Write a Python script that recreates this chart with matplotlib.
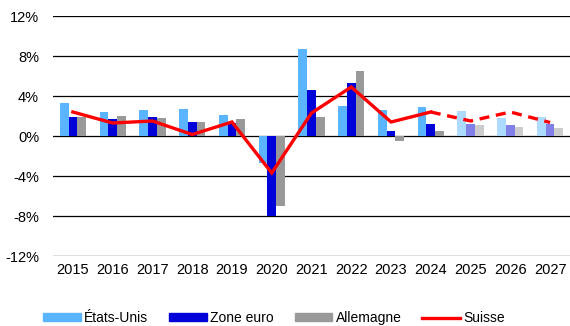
import numpy as np
import matplotlib
matplotlib.use("Agg")
import matplotlib.pyplot as plt
from matplotlib.patches import Patch
from matplotlib.lines import Line2D
from matplotlib.ticker import FuncFormatter

plt.rcParams['font.family'] = ['Liberation Sans', 'DejaVu Sans']

# Croissance du PIB réel (%), 2025-2027 = prévisions
annees = [2015, 2016, 2017, 2018, 2019, 2020, 2021, 2022, 2023, 2024, 2025, 2026, 2027]
etats_unis = [3.3, 2.4, 2.6, 2.7, 2.1, -2.7, 8.7, 3.0, 2.6, 2.9, 2.5, 1.8, 1.9]
zone_euro = [1.95, 1.7, 1.9, 1.4, 1.3, -8.0, 4.6, 5.3, 0.5, 1.2, 1.2, 1.1, 1.2]
allemagne = [1.95, 2.0, 1.8, 1.4, 1.7, -7.0, 1.9, 6.5, -0.5, 0.5, 1.1, 0.9, 0.8]
suisse = [2.4, 1.3, 1.5, 0.15, 1.4, -3.7, 2.3, 4.9, 1.4, 2.4, 1.5, 2.4, 1.35]
premiere_prevision = 2025

# couleurs observé / prévision
col_us = ('#5AB4FF', '#ADDAFF')
col_ez = ('#0000D8', '#8080E8')
col_de = ('#999999', '#CCCCCC')

fig = plt.figure(figsize=(5.7, 3.26), dpi=100)
ax = fig.add_axes([53 / 570, 1 - 256 / 326, 1 - 53 / 570, 240 / 326])

x = np.arange(len(annees))
w = 0.22
prev = np.array(annees) >= premiere_prevision

for vals, cols, off in [(etats_unis, col_us, -w), (zone_euro, col_ez, 0), (allemagne, col_de, w)]:
    colors = [cols[1] if p else cols[0] for p in prev]
    ax.bar(x + off, vals, width=w, color=colors, zorder=3)

# Suisse : trait plein jusqu'en 2024, pointillé ensuite
i = annees.index(premiere_prevision) - 1
ax.plot(x[:i + 1], suisse[:i + 1], color='#FF0000', lw=2.4, zorder=4, solid_joinstyle='miter')
ax.plot(x[i:], suisse[i:], color='#FF0000', lw=2.4, ls=(0, (3, 2)), zorder=4)

ax.set_ylim(-12, 12)
ax.set_yticks(np.arange(-12, 13, 4))
ax.yaxis.set_major_formatter(FuncFormatter(lambda v, p: f"{v:.0f}%"))
ax.set_xlim(-0.5, len(annees) - 0.5)
ax.set_xticks(x)
ax.set_xticklabels([str(a) for a in annees])
ax.grid(axis='y', color='black', lw=0.9, zorder=0)
ax.tick_params(axis='both', length=0, labelsize=10.5)
ax.tick_params(axis='y', pad=10)
ax.tick_params(axis='x', pad=5)
for s in ax.spines.values():
    s.set_visible(False)

handles = [
    Patch(color=col_us[0], label='États-Unis'),
    Patch(color=col_ez[0], label='Zone euro'),
    Patch(color=col_de[0], label='Allemagne'),
    Line2D([], [], color='#FF0000', lw=2.4, label='Suisse'),
]
fig.legend(handles=handles, ncol=4, loc='center', bbox_to_anchor=(274 / 570, 1 - 318 / 326),
           frameon=False, fontsize=10, handlelength=2.7, handleheight=0.5,
           handletextpad=0.25, columnspacing=1.5)

fig.savefig('out.png', dpi=100)
